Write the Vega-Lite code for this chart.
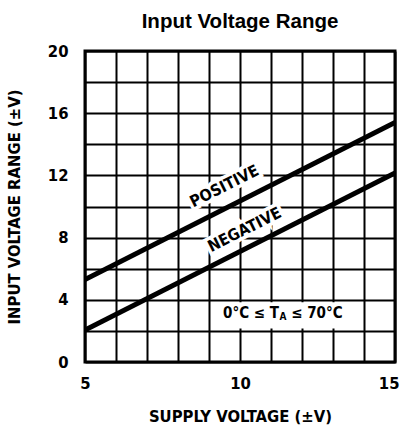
{
  "$schema": "https://vega.github.io/schema/vega-lite/v6.json",
  "autosize": {"type": "none"},
  "width": 310,
  "height": 311,
  "padding": {"left": 85, "top": 51, "right": 8, "bottom": 65},
  "background": "white",
  "title": {"text": "Input Voltage Range", "font": "Liberation Sans", "fontSize": 20.5, "fontWeight": "bold", "color": "black", "anchor": "middle", "offset": 11},
  "datasets": {
    "lines": [
      {"series": "POSITIVE", "supply": 5, "range": 5.3},
      {"series": "POSITIVE", "supply": 15, "range": 15.4},
      {"series": "NEGATIVE", "supply": 5, "range": 2.05},
      {"series": "NEGATIVE", "supply": 15, "range": 12.15}
    ],
    "labels": [
      {"label": "POSITIVE", "supply": 9.5, "range": 11.3},
      {"label": "NEGATIVE", "supply": 10.15, "range": 8.5}
    ],
    "box": [
      {"x1": 9.35, "x2": 13.75, "y1": 2.15, "y2": 3.85}
    ],
    "temp": [
      {"part": "0°C ≤ T", "supply": 11.26, "range": 2.8}
    ],
    "temp2": [
      {"part": "≤ 70°C", "supply": 11.65, "range": 2.8}
    ],
    "sub": [
      {"part": "A", "supply": 11.26, "range": 2.7}
    ]
  },
  "encoding": {
    "x": {"field": "supply", "type": "quantitative", "scale": {"domain": [5, 15], "nice": false, "zero": false},
      "axis": {"values": [5,6,7,8,9,10,11,12,13,14,15], "labelExpr": "datum.value % 5 === 0 ? datum.label : ''", "title": "SUPPLY VOLTAGE (±V)", "labelPadding": 13, "titlePadding": 17, "labelFlush": false,
        "labelAlign": {"condition": {"test": "datum.value === 15", "value": "right"}, "value": "center"},
        "labelOffset": {"condition": {"test": "datum.value === 15", "value": 4}, "value": 0}}},
    "y": {"field": "range", "type": "quantitative", "scale": {"domain": [0, 20], "nice": false},
      "axis": {"values": [0,2,4,6,8,10,12,14,16,18,20], "labelExpr": "datum.value % 4 === 0 ? datum.label : ''", "title": "INPUT VOLTAGE RANGE (±V)", "labelPadding": 17, "titlePadding": 25}}
  },
  "layer": [
    {"data": {"name": "lines"}, "mark": {"type": "line", "color": "black", "strokeWidth": 5, "strokeCap": "butt", "clip": true}, "encoding": {"detail": {"field": "series"}}},
    {"data": {"name": "labels"}, "mark": {"type": "text", "font": "DejaVu Sans Condensed", "fontWeight": "bold", "fontSize": 16, "angle": -26.6, "stroke": "white", "strokeWidth": 7, "fill": "white", "align": "center", "baseline": "middle"}, "encoding": {"text": {"field": "label"}}},
    {"data": {"name": "labels"}, "mark": {"type": "text", "font": "DejaVu Sans Condensed", "fontWeight": "bold", "fontSize": 16, "angle": -26.6, "color": "black", "align": "center", "baseline": "middle"}, "encoding": {"text": {"field": "label"}}},
    {"data": {"name": "box"}, "mark": {"type": "rect", "fill": "white"}, "encoding": {"x": {"field": "x1", "type": "quantitative"}, "x2": {"field": "x2"}, "y": {"field": "y1", "type": "quantitative"}, "y2": {"field": "y2"}}},
    {"data": {"name": "temp"}, "mark": {"type": "text", "font": "DejaVu Sans Condensed", "fontWeight": "bold", "fontSize": 15, "color": "black", "align": "right", "baseline": "alphabetic"}, "encoding": {"text": {"field": "part"}}},
    {"data": {"name": "temp2"}, "mark": {"type": "text", "font": "DejaVu Sans Condensed", "fontWeight": "bold", "fontSize": 15, "color": "black", "align": "left", "baseline": "alphabetic"}, "encoding": {"text": {"field": "part"}}},
    {"data": {"name": "sub"}, "mark": {"type": "text", "font": "DejaVu Sans Condensed", "fontWeight": "bold", "fontSize": 10, "color": "black", "align": "left", "baseline": "alphabetic", "dx": 0.5}, "encoding": {"text": {"field": "part"}}}
  ],
  "config": {
    "view": {"stroke": "black", "strokeWidth": 3},
    "axis": {
      "grid": true, "gridColor": "black", "gridWidth": 2, "gridOpacity": 1,
      "domain": false, "ticks": false,
      "labelFont": "DejaVu Sans Condensed", "labelFontWeight": "bold", "labelFontSize": 16.5, "labelColor": "black",
      "titleFont": "DejaVu Sans Condensed", "titleFontWeight": "bold", "titleFontSize": 16.5, "titleColor": "black"
    }
  }
}
